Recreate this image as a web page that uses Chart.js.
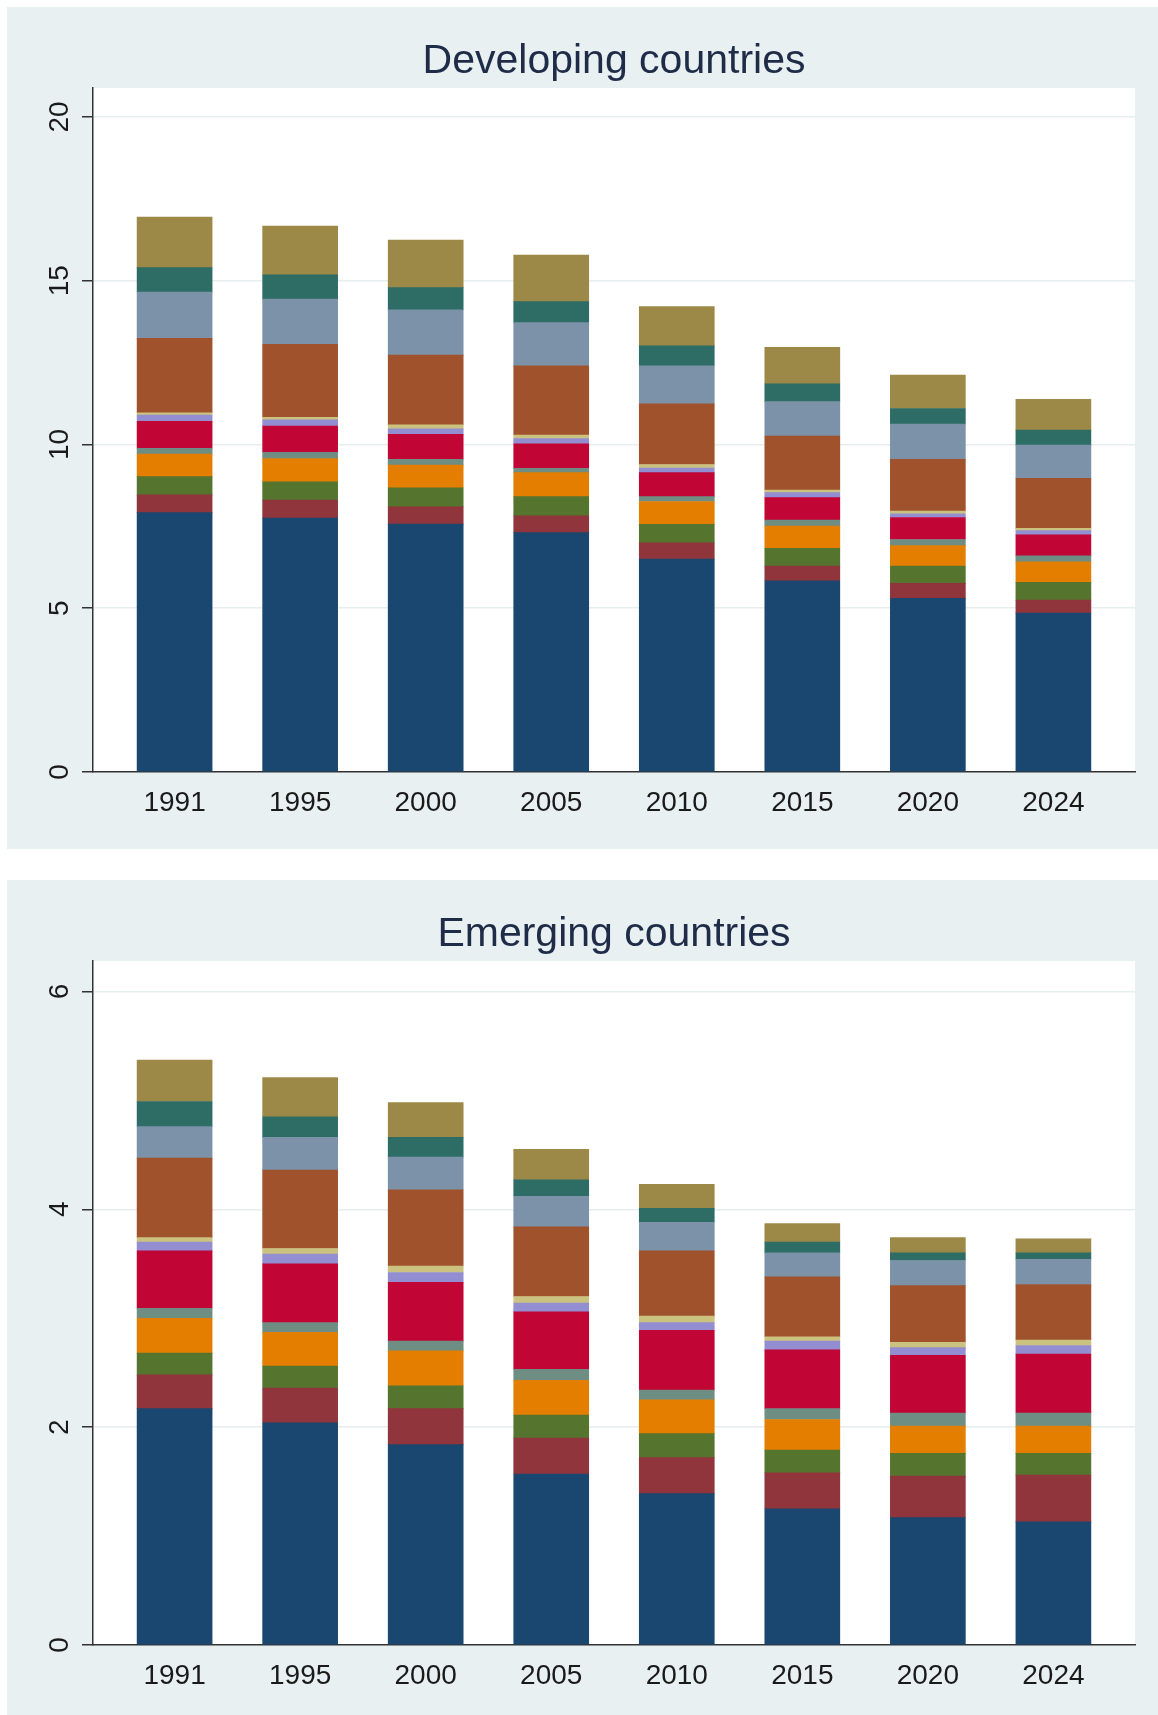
<!DOCTYPE html>
<html>
<head>
<meta charset="utf-8">
<script src="https://cdn.jsdelivr.net/npm/chart.js@4.4.1/dist/chart.umd.min.js"></script>
<style>
  body { margin: 0; background: #fff; }
  .panel { position: absolute; left: 7px; width: 1151px; background: #e9f0f2; }
  #devPanel { top: 7px; height: 842px; }
  #emgPanel { top: 880px; height: 835px; }
  canvas { display: block; }
</style>
</head>
<body>
<div class="panel" id="devPanel"><canvas id="devChart" width="1151" height="842"></canvas></div>
<div class="panel" id="emgPanel"><canvas id="emgChart" width="1151" height="835"></canvas></div>
<script>
const years = ['1991', '1995', '2000', '2005', '2010', '2015', '2020', '2024'];
const devTicks = [0, 5, 10, 15, 20];
const emgTicks = [0, 2, 4, 6];

// Developing countries, stack components from bottom to top
const devNavy     = [7.92, 7.75, 7.57, 7.31, 6.50, 5.84, 5.30, 4.85];
const devMaroon   = [0.54, 0.55, 0.53, 0.51, 0.50, 0.45, 0.46, 0.40];
const devGreen    = [0.56, 0.56, 0.58, 0.59, 0.56, 0.54, 0.53, 0.54];
const devOrange   = [0.69, 0.71, 0.69, 0.73, 0.70, 0.68, 0.62, 0.63];
const devTeal     = [0.17, 0.19, 0.18, 0.13, 0.15, 0.18, 0.19, 0.18];
const devRed      = [0.83, 0.80, 0.76, 0.75, 0.73, 0.69, 0.67, 0.64];
const devLavender = [0.19, 0.19, 0.17, 0.16, 0.14, 0.15, 0.11, 0.13];
const devKhaki    = [0.07, 0.08, 0.12, 0.11, 0.11, 0.08, 0.09, 0.07];
const devSienna   = [2.27, 2.23, 2.13, 2.11, 1.85, 1.65, 1.58, 1.53];
const devSteel    = [1.41, 1.38, 1.38, 1.32, 1.16, 1.05, 1.07, 1.01];
const devEmerald  = [0.75, 0.74, 0.68, 0.64, 0.61, 0.54, 0.48, 0.46];
const devBrown    = [1.54, 1.49, 1.45, 1.42, 1.20, 1.12, 1.02, 0.94];

// Emerging countries, same order
const emgNavy     = [2.17, 2.04, 1.84, 1.57, 1.39, 1.25, 1.17, 1.13];
const emgMaroon   = [0.31, 0.32, 0.33, 0.33, 0.33, 0.33, 0.38, 0.43];
const emgGreen    = [0.20, 0.20, 0.21, 0.21, 0.22, 0.21, 0.21, 0.20];
const emgOrange   = [0.32, 0.31, 0.32, 0.32, 0.31, 0.28, 0.25, 0.25];
const emgTeal     = [0.09, 0.09, 0.09, 0.10, 0.09, 0.10, 0.12, 0.12];
const emgRed      = [0.53, 0.54, 0.54, 0.53, 0.55, 0.54, 0.53, 0.54];
const emgLavender = [0.08, 0.09, 0.09, 0.08, 0.07, 0.08, 0.07, 0.08];
const emgKhaki    = [0.04, 0.05, 0.06, 0.06, 0.06, 0.04, 0.05, 0.05];
const emgSienna   = [0.73, 0.72, 0.70, 0.64, 0.60, 0.55, 0.52, 0.51];
const emgSteel    = [0.29, 0.30, 0.30, 0.28, 0.26, 0.22, 0.23, 0.23];
const emgEmerald  = [0.23, 0.19, 0.18, 0.15, 0.13, 0.10, 0.07, 0.06];
const emgBrown    = [0.38, 0.36, 0.32, 0.28, 0.22, 0.17, 0.14, 0.13];

const segColors = ['#1a476f', '#90353b', '#55752f', '#e37e00', '#6e8e84', '#c10534',
                   '#938dd2', '#cac27e', '#a0522d', '#7b92a8', '#2d6d66', '#9c8847'];

const FONT = '"Liberation Sans", Arial, sans-serif';
Chart.defaults.font.family = FONT;

// white plot region inside the tinted panel
const plotBackground = {
    id: 'plotBackground',
    beforeDraw(chart) {
        const { ctx, chartArea: a } = chart;
        ctx.save();
        ctx.fillStyle = '#ffffff';
        ctx.fillRect(a.left, a.top, a.right - a.left, a.bottom - a.top);
        ctx.restore();
    }
};

// y tick labels are written vertically, next to the tick marks
const verticalYLabels = {
    id: 'verticalYLabels',
    afterDraw(chart) {
        const { ctx, chartArea } = chart;
        const y = chart.scales.y;
        ctx.save();
        ctx.font = '28px ' + FONT;
        ctx.fillStyle = '#1a1a1a';
        ctx.textAlign = 'center';
        ctx.textBaseline = 'middle';
        y.ticks.forEach(t => {
            ctx.save();
            ctx.translate(chartArea.left - 33, y.getPixelForValue(t.value));
            ctx.rotate(-Math.PI / 2);
            ctx.fillText(String(t.value), 0, 0);
            ctx.restore();
        });
        ctx.restore();
    }
};

function stackedChart(id, title, stack, yTicks, yMax, bottomPad) {
    const ctx = document.getElementById(id).getContext('2d');
    return new Chart(ctx, {
        type: 'bar',
        data: {
            datasets: stack.map((vals, k) => ({
                data: vals.map((v, i) => ({ x: i, y: v })),
                backgroundColor: segColors[k],
                borderWidth: 0,
                barThickness: 75
            }))
        },
        options: {
            responsive: false,
            animation: false,
            devicePixelRatio: 1,
            layout: { padding: { left: 75, right: 23, top: 0, bottom: bottomPad } },
            plugins: {
                legend: { display: false },
                tooltip: { enabled: false },
                title: {
                    display: true,
                    text: title,
                    fullSize: false,
                    color: '#1e2c48',
                    font: { size: 41, weight: 'normal', lineHeight: '48px' },
                    padding: { top: 31, bottom: 2 }
                }
            },
            scales: {
                x: {
                    type: 'linear',
                    stacked: true,
                    offset: false,
                    min: -0.65,
                    max: 7.65,
                    afterBuildTicks: s => { s.ticks = years.map((_, i) => ({ value: i })); },
                    afterFit: s => { s.height = 60; },
                    grid: { display: false },
                    border: { color: '#333', width: 1.5 },
                    ticks: {
                        callback: v => years[v],
                        font: { size: 28 },
                        color: '#1a1a1a',
                        padding: 6,
                        maxRotation: 0,
                        autoSkip: false
                    }
                },
                y: {
                    stacked: true,
                    min: 0,
                    max: yMax,
                    afterBuildTicks: s => { s.ticks = yTicks.map(v => ({ value: v })); },
                    afterFit: s => { s.width = 11; },
                    grid: { color: '#e6eef0', lineWidth: 1.5, tickColor: '#333', tickLength: 11 },
                    border: { color: '#333', width: 1.5 },
                    ticks: { display: false }
                }
            }
        },
        plugins: [plotBackground, verticalYLabels]
    });
}

stackedChart('devChart', 'Developing countries',
    [devNavy, devMaroon, devGreen, devOrange, devTeal, devRed,
     devLavender, devKhaki, devSienna, devSteel, devEmerald, devBrown],
    devTicks, 20.885, 17);

stackedChart('emgChart', 'Emerging countries',
    [emgNavy, emgMaroon, emgGreen, emgOrange, emgTeal, emgRed,
     emgLavender, emgKhaki, emgSienna, emgSteel, emgEmerald, emgBrown],
    emgTicks, 6.28, 10);
</script>
</body>
</html>
